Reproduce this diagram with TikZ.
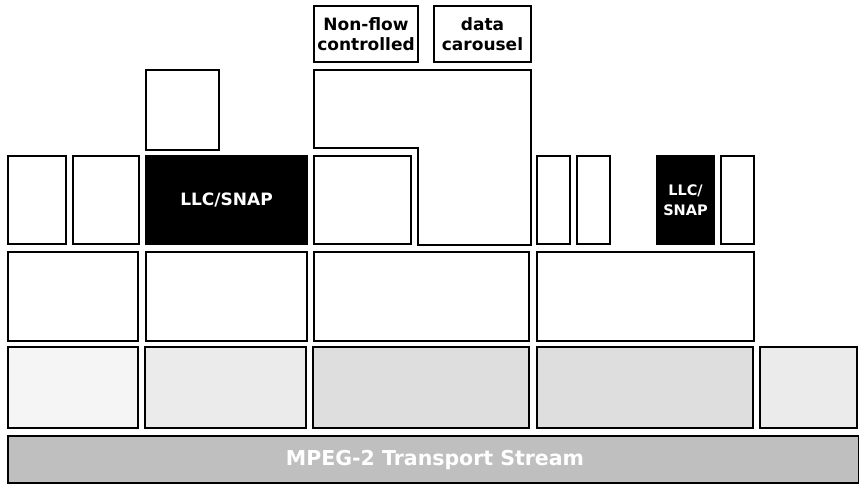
\documentclass[tikz,border=0pt]{standalone}
\usepackage{fontspec}
\setmainfont{DejaVu Sans}
\begin{document}
\begin{tikzpicture}[x=1pt,y=-1pt,
  box/.style={draw=black, line width=1.8pt, fill=white, inner sep=0pt, outer sep=0pt, anchor=north west},
  darkbox/.style={box, fill=black, text=white, font=\bfseries\fontsize{17}{20}\selectfont, align=center},
  lbl/.style={box, font=\bfseries\fontsize{17}{20}\selectfont, align=center},
  shade1/.style={box, fill=gray!8},
  shade2/.style={box, fill=gray!16},
  shade3/.style={box, fill=gray!26}]
\useasboundingbox (0,0) rectangle (859,485);
% top labels
\node[lbl, minimum width=104pt, minimum height=56pt] (nfc) at (314,6) {Non-flow\\controlled};
\node[lbl, minimum width=97pt, minimum height=56pt] (dc) at (434,6) {data\\carousel};
% L shaped block
\draw[line width=1.8pt, fill=white] (314,70) -- (531,70) -- (531,245) -- (418,245) -- (418,148) -- (314,148) -- cycle;
% box above LLC/SNAP
\node[box, minimum width=73pt, minimum height=80pt] (top1) at (146,70) {};
% row 2
\node[box, minimum width=58pt, minimum height=88pt] (r2a) at (8,156) {};
\node[box, minimum width=66pt, minimum height=88pt] (r2b) at (73,156) {};
\node[darkbox, minimum width=161pt, minimum height=88pt] (llc1) at (146,156) {LLC/SNAP};
\node[box, minimum width=97pt, minimum height=88pt] (r2d) at (314,156) {};
\node[box, minimum width=33pt, minimum height=88pt] (r2e) at (537,156) {};
\node[box, minimum width=33pt, minimum height=88pt] (r2f) at (577,156) {};
\node[darkbox, font=\bfseries\fontsize{14.5}{20}\selectfont, minimum width=57pt, minimum height=88pt] (llc2) at (657,156) {LLC/\\SNAP};
\node[box, minimum width=33pt, minimum height=88pt] (r2h) at (721,156) {};
% row 3
\node[box, minimum width=130pt, minimum height=89pt] (r3a) at (8,252) {};
\node[box, minimum width=161pt, minimum height=89pt] (r3b) at (146,252) {};
\node[box, minimum width=215pt, minimum height=89pt] (r3c) at (314,252) {};
\node[box, minimum width=217pt, minimum height=89pt] (r3d) at (537,252) {};
% row 4
\node[shade1, minimum width=130pt, minimum height=81pt] (r4a) at (8,347) {};
\node[shade2, minimum width=161pt, minimum height=81pt] (r4b) at (145,347) {};
\node[shade3, minimum width=216pt, minimum height=81pt] (r4c) at (313,347) {};
\node[shade3, minimum width=216pt, minimum height=81pt] (r4d) at (537,347) {};
\node[shade2, minimum width=97pt, minimum height=81pt] (r4e) at (760,347) {};
% transport stream bar
\node[box, fill=gray!50, minimum width=851pt, minimum height=47pt] (ts) at (8,436) {};
\node[text=white, font=\bfseries\fontsize{20.5}{24}\selectfont] (tstext) at (435,460) {MPEG-2 Transport Stream};
\end{tikzpicture}
\end{document}
